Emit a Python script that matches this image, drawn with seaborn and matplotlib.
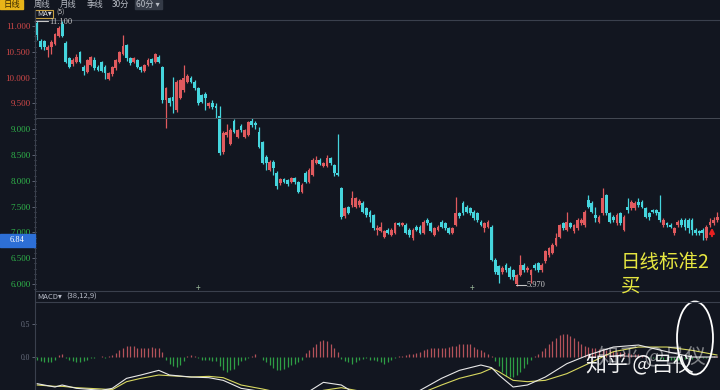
import numpy as np
import matplotlib
matplotlib.use("Agg")
import matplotlib.pyplot as plt
from matplotlib.patches import Ellipse, Rectangle
from matplotlib.lines import Line2D
from matplotlib.ticker import MultipleLocator
import seaborn as sns

# daily candles
open_px = [
    11.05, 10.70, 10.70, 10.54, 10.60, 10.66, 10.80, 11.03, 10.67, 10.37,
    10.26, 10.30, 10.50, 10.21, 10.10, 10.25, 10.34, 10.21, 10.30, 10.21,
    9.98, 10.06, 10.18, 10.30, 10.45, 10.63, 10.37, 10.30, 10.34, 10.21,
    10.12, 10.25, 10.36, 10.31, 10.40, 10.20, 9.57, 9.60, 9.62, 9.37,
    9.60, 9.75, 9.92, 10.00, 9.92, 9.79, 9.66, 9.69, 9.45, 9.51,
    9.45, 9.26, 8.55, 8.89, 8.72, 9.16, 8.85, 9.06, 8.85, 8.89,
    9.16, 9.12, 8.95, 8.76, 8.47, 8.21, 8.37, 8.16, 7.95, 8.03,
    8.02, 7.98, 8.05, 7.98, 7.79, 8.15, 7.97, 8.12, 8.34, 8.41,
    8.28, 8.28, 8.44, 8.31, 8.15, 7.86, 7.32, 7.50, 7.53, 7.50,
    7.53, 7.56, 7.47, 7.40, 7.34, 7.05, 7.02, 6.92, 7.05, 6.95,
    6.99, 7.18, 7.15, 7.15, 7.05, 6.89, 7.11, 7.11, 6.99, 7.24,
    7.18, 6.95, 7.05, 7.21, 7.18, 7.08, 6.99, 7.15, 7.37, 7.56,
    7.50, 7.47, 7.40, 7.37, 7.21, 7.08, 7.11, 7.11, 6.47, 6.34,
    6.24, 6.37, 6.31, 6.27, 5.99, 6.18, 6.37, 6.27, 6.18, 6.37,
    6.40, 6.27, 6.44, 6.56, 6.60, 6.76, 6.92, 7.18, 7.05, 7.18,
    7.02, 7.08, 7.18, 7.14, 7.63, 7.56, 7.34, 7.21, 7.37, 7.72,
    7.37, 7.30, 7.18, 7.37, 7.05, 7.50, 7.47, 7.47, 7.59, 7.59,
    7.47, 7.37, 7.43, 7.43, 7.40, 7.14, 7.18, 7.14, 6.98, 7.14,
    7.24, 7.24, 7.24, 7.24, 7.05, 7.02, 7.05, 6.89, 7.14, 7.18,
    7.24,
]
close_px = [
    10.83, 10.60, 10.60, 10.60, 10.68, 10.84, 10.97, 10.80, 10.30, 10.21,
    10.34, 10.40, 10.30, 10.13, 10.34, 10.40, 10.18, 10.15, 10.12, 10.08,
    10.08, 10.21, 10.34, 10.50, 10.62, 10.37, 10.28, 10.37, 10.21, 10.14,
    10.24, 10.34, 10.28, 10.45, 10.30, 9.57, 9.79, 9.50, 9.55, 9.92,
    9.95, 10.00, 10.04, 9.92, 9.79, 9.50, 9.53, 9.60, 9.51, 9.43,
    9.42, 8.54, 8.93, 8.95, 8.99, 8.95, 8.98, 8.98, 8.98, 9.14,
    9.08, 9.08, 8.66, 8.35, 8.34, 8.37, 8.24, 7.89, 8.03, 7.98,
    7.93, 8.05, 7.97, 7.79, 7.92, 7.97, 8.21, 8.41, 8.41, 8.33,
    8.34, 8.44, 8.34, 8.15, 8.12, 7.30, 7.47, 7.37, 7.66, 7.66,
    7.60, 7.40, 7.34, 7.30, 7.08, 7.08, 7.11, 7.02, 6.99, 7.05,
    7.18, 7.15, 7.18, 6.99, 6.95, 7.05, 7.05, 6.99, 7.21, 7.18,
    7.02, 7.08, 7.11, 7.11, 7.08, 6.99, 7.08, 7.37, 7.31, 7.37,
    7.40, 7.37, 7.27, 7.24, 7.15, 7.18, 7.21, 6.47, 6.24, 6.18,
    6.31, 6.27, 6.14, 6.14, 6.18, 6.37, 6.27, 6.31, 6.27, 6.31,
    6.27, 6.37, 6.63, 6.69, 6.76, 6.89, 7.14, 7.08, 7.21, 7.11,
    7.14, 7.24, 7.24, 7.40, 7.50, 7.40, 7.27, 7.30, 7.66, 7.37,
    7.21, 7.24, 7.34, 7.18, 7.30, 7.43, 7.59, 7.56, 7.53, 7.50,
    7.30, 7.30, 7.40, 7.37, 7.24, 7.24, 7.14, 7.11, 7.08, 7.21,
    7.14, 7.11, 7.08, 7.05, 6.98, 6.98, 6.98, 7.11, 7.21, 7.24,
    7.30,
]
high_px = [
    11.10, 10.75, 10.72, 10.63, 10.72, 10.87, 11.00, 11.10, 10.70, 10.40,
    10.37, 10.45, 10.52, 10.24, 10.36, 10.42, 10.40, 10.24, 10.32, 10.24,
    10.10, 10.23, 10.36, 10.52, 10.83, 10.66, 10.40, 10.40, 10.36, 10.23,
    10.26, 10.37, 10.38, 10.48, 10.43, 10.22, 9.82, 9.63, 10.02, 9.95,
    9.98, 10.25, 10.07, 10.03, 9.95, 9.82, 9.69, 9.72, 9.53, 9.56,
    9.50, 9.44, 8.96, 9.11, 9.02, 9.20, 9.00, 9.10, 9.00, 9.16,
    9.22, 9.15, 9.05, 8.78, 8.50, 8.40, 8.40, 8.18, 8.06, 8.06,
    8.04, 8.08, 8.08, 8.00, 7.95, 8.18, 8.24, 8.44, 8.48, 8.44,
    8.37, 8.50, 8.46, 8.33, 8.90, 7.88, 7.50, 7.52, 7.80, 7.68,
    7.65, 7.60, 7.50, 7.43, 7.36, 7.14, 7.20, 7.05, 7.08, 7.08,
    7.20, 7.20, 7.20, 7.18, 7.08, 7.08, 7.14, 7.14, 7.24, 7.27,
    7.20, 7.10, 7.14, 7.24, 7.20, 7.11, 7.11, 7.69, 7.40, 7.60,
    7.53, 7.50, 7.43, 7.40, 7.24, 7.21, 7.24, 7.14, 6.50, 6.37,
    6.34, 6.40, 6.34, 6.30, 6.20, 6.56, 6.40, 6.34, 6.30, 6.40,
    6.43, 6.40, 6.66, 6.72, 6.80, 6.98, 7.17, 7.21, 7.40, 7.21,
    7.17, 7.27, 7.27, 7.43, 7.72, 7.60, 7.50, 7.33, 7.86, 7.75,
    7.40, 7.33, 7.37, 7.40, 7.33, 7.66, 7.62, 7.60, 7.66, 7.62,
    7.50, 7.40, 7.46, 7.46, 7.72, 7.27, 7.21, 7.18, 7.11, 7.24,
    7.27, 7.27, 7.27, 7.27, 7.08, 7.05, 7.08, 7.14, 7.27, 7.30,
    7.40,
]
low_px = [
    10.73, 10.55, 10.53, 10.39, 10.45, 10.64, 10.78, 10.78, 10.28, 10.18,
    10.23, 10.28, 10.28, 10.05, 10.08, 10.22, 10.15, 10.12, 10.10, 9.97,
    9.95, 10.04, 10.15, 10.28, 10.43, 10.33, 10.25, 10.28, 10.18, 10.10,
    10.10, 10.23, 10.25, 10.29, 10.28, 9.50, 9.02, 9.45, 9.31, 9.34,
    9.58, 9.72, 9.90, 9.89, 9.76, 9.47, 9.50, 9.37, 9.42, 9.40,
    9.21, 8.50, 8.52, 8.85, 8.70, 8.92, 8.82, 8.95, 8.82, 8.87,
    9.05, 9.00, 8.63, 8.32, 8.20, 8.18, 8.11, 7.85, 7.92, 7.95,
    7.90, 7.95, 7.94, 7.76, 7.76, 7.95, 7.95, 8.10, 8.32, 8.30,
    8.26, 8.26, 8.31, 8.10, 8.10, 7.25, 7.28, 7.35, 7.50, 7.48,
    7.50, 7.38, 7.30, 7.20, 7.05, 6.95, 7.00, 6.90, 6.96, 6.93,
    6.97, 7.12, 7.13, 6.97, 6.92, 6.86, 7.02, 6.96, 6.97, 7.15,
    7.00, 6.93, 7.02, 7.08, 7.05, 6.96, 6.96, 7.12, 7.28, 7.34,
    7.37, 7.34, 7.24, 7.21, 7.12, 7.00, 7.08, 6.45, 6.20, 6.02,
    6.20, 6.24, 6.10, 6.08, 5.97, 6.15, 6.24, 6.24, 6.02, 6.28,
    6.24, 6.24, 6.40, 6.53, 6.58, 6.74, 6.90, 7.05, 7.02, 7.08,
    6.99, 7.05, 7.15, 7.11, 7.47, 7.37, 7.21, 7.18, 7.34, 7.34,
    7.18, 7.21, 7.15, 7.15, 7.02, 7.37, 7.44, 7.44, 7.50, 7.47,
    7.27, 7.24, 7.37, 7.34, 7.21, 7.11, 7.11, 7.08, 6.95, 7.11,
    7.11, 7.05, 6.98, 6.95, 6.95, 6.95, 6.85, 6.86, 7.11, 7.15,
    7.21,
]

# MACD histogram, one bar per candle
macd_hist = [
    -0.04, -0.06, -0.08, -0.08, -0.07, -0.04, 0.03, 0.04, -0.01,
    -0.04, -0.06, -0.07, -0.07, -0.06, -0.04,
    -0.01, -0.01, 0.0, 0.01, -0.01, 0.01,
    0.03, 0.06, 0.10, 0.14, 0.17, 0.17, 0.16, 0.14, 0.13, 0.13, 0.14, 0.15, 0.14, 0.13, 0.08,
    -0.05, -0.10, -0.14, -0.15, -0.12, -0.06,
    0.02, 0.03, 0.02,
    -0.02, -0.04, -0.05, -0.05, -0.06, -0.06,
    -0.14, -0.20, -0.22, -0.20, -0.18, -0.12,
    -0.06, -0.04, -0.02,
    0.02, 0.04, 0.0,
    -0.04, -0.08, -0.12, -0.16, -0.19, -0.20, -0.18, -0.15, -0.12, -0.10, -0.07, -0.04,
    0.06, 0.10, 0.15, 0.20, 0.24, 0.25, 0.24, 0.20, 0.14, 0.08,
    -0.03, -0.06, -0.08, -0.10, -0.08, -0.05, -0.03, -0.02, -0.04, -0.05, -0.06, -0.08,
    -0.10, -0.08, -0.05, -0.02,
    0.01, 0.02, 0.03, 0.04, 0.05, 0.06, 0.08, 0.10, 0.12, 0.13, 0.14, 0.14, 0.13, 0.14,
    0.15, 0.16, 0.17, 0.19, 0.20, 0.20, 0.19,
    0.15, 0.12, 0.10, 0.07, 0.04, 0.02,
    -0.06, -0.14, -0.22, -0.28, -0.30, -0.30, -0.27, -0.22, -0.16, -0.10, -0.05,
    0.02, 0.05, 0.09, 0.14, 0.19, 0.24, 0.29, 0.33, 0.35, 0.34, 0.31, 0.28, 0.24, 0.20,
    0.17, 0.15,
    0.14, 0.13, 0.12, 0.12, 0.11, 0.10, 0.09, 0.08, 0.08, 0.07, 0.06, 0.05, 0.05, 0.04,
    0.03, 0.02,
    -0.01, -0.02, -0.03, -0.03, -0.04, -0.04, -0.05, -0.05, -0.04, -0.04, -0.03, -0.03,
    -0.03, -0.02, -0.02, -0.02, -0.01, -0.01, 0.01, 0.01,
]

# DIF / DEA lines, sampled at these candle positions
line_idx = [0, 5, 7, 11, 18, 21, 25, 29, 34, 37, 43, 48, 52, 57, 63, 69, 75, 80, 85,
            89, 96, 104, 107, 113, 118, 124, 127, 129, 133, 137, 142, 148, 154, 161,
            168, 176, 183, 190]
dif_vals = [-0.40, -0.45, -0.42, -0.47, -0.50, -0.47, -0.32, -0.27, -0.20, -0.27, -0.30,
            -0.31, -0.35, -0.47, -0.52, -0.62, -0.55, -0.38, -0.42, -0.55, -0.60, -0.58,
            -0.50, -0.32, -0.20, -0.12, -0.16, -0.27, -0.45, -0.42, -0.30, -0.10, 0.03,
            0.15, 0.18, 0.08, 0.00, 0.00]
dea_vals = [-0.42, -0.44, -0.44, -0.46, -0.48, -0.49, -0.37, -0.32, -0.27, -0.28, -0.30,
            -0.29, -0.31, -0.42, -0.48, -0.55, -0.56, -0.50, -0.46, -0.50, -0.56, -0.58,
            -0.55, -0.42, -0.32, -0.24, -0.17, -0.22, -0.35, -0.37, -0.35, -0.25, -0.10,
            0.08, 0.15, 0.15, 0.10, 0.03]

price_ticks = [6.0, 6.5, 7.0, 7.5, 8.0, 8.5, 9.0, 9.5, 10.0, 10.5, 11.0]
macd_ticks = [0.0, 0.5]
base_price = 9.22
tabs = ["日线", "周线", "月线", "季线", "30分", "60分 ▾"]

BG = "#121620"
UP = "#e05a5e"
DOWN = "#45d5dd"
GRID = "#3a404d"

sns.set_theme(style="dark", rc={"axes.facecolor": BG, "figure.facecolor": BG})
plt.rcParams["font.family"] = ["Noto Sans CJK SC", "DejaVu Sans"]

fig = plt.figure(figsize=(7.2, 3.9), dpi=100)


def fx(x):
    return x / 720


def fy(y):
    return 1 - y / 390


o = np.array(open_px)
c = np.array(close_px)
h = np.array(high_px)
l = np.array(low_px)
xs = np.arange(len(c))
up = c >= o
cols = np.where(up, UP, DOWN)

# price panel
ax = fig.add_axes([fx(36), fy(291), fx(720) - fx(36), fy(20) - fy(291)])
ax.set_facecolor(BG)
ax.vlines(xs, l, h, colors=cols, lw=0.9)
body = np.maximum(np.abs(c - o), 0.015)
ax.bar(xs, body, bottom=np.minimum(o, c), width=0.78, color=cols, linewidth=0)
ax.axhline(base_price, color="#454a54", lw=0.7)
ax.set_xlim(-0.3, 190.8)
ax.set_ylim(5.864, 11.116)
ax.set_xticks([])
ax.set_yticks(price_ticks)
ax.set_yticklabels([f"{v:.3f}" for v in price_ticks])
for lbl, v in zip(ax.get_yticklabels(), price_ticks):
    lbl.set_color("#d04848" if v > base_price else "#2fb34a")
    lbl.set_family("Liberation Serif")
ax.yaxis.set_minor_locator(MultipleLocator(0.1))
ax.tick_params(axis="y", which="major", direction="out", length=3, width=0.6,
               color="#6a7080", labelsize=6.5, pad=1, left=True)
ax.tick_params(axis="y", which="minor", direction="out", length=1.5, width=0.5,
               color="#6a7080", left=True)
for s in ax.spines.values():
    s.set_visible(False)

# MACD panel
ax2 = fig.add_axes([fx(36), 0, fx(720) - fx(36), fy(302)])
ax2.set_facecolor(BG)
hist = np.array(macd_hist)
hx = np.arange(len(hist))
ax2.vlines(hx, 0, hist, colors=np.where(hist >= 0, "#b4525a", "#2e9e45"), lw=0.9)
sns.lineplot(x=line_idx, y=dea_vals, ax=ax2, color="#d8d860", lw=0.8)
sns.lineplot(x=line_idx, y=dif_vals, ax=ax2, color="#e8e8e8", lw=0.8)
ax2.set_xlim(-0.3, 190.8)
ax2.set_ylim(-0.495, 0.826)
ax2.set_xticks([])
ax2.set_yticks(macd_ticks)
ax2.set_yticklabels([f"{v:.1f}" for v in macd_ticks])
ax2.tick_params(axis="y", direction="out", length=3, width=0.6, color="#6a7080",
                labelsize=5.5, labelcolor="#6a7080", pad=1, left=True)
for lbl in ax2.get_yticklabels():
    lbl.set_family("Liberation Serif")
for s in ax2.spines.values():
    s.set_visible(False)

# frame lines
for y in (20, 291, 302):
    fig.add_artist(Line2D([fx(35), 1], [fy(y), fy(y)], color=GRID, lw=0.8))
fig.add_artist(Line2D([fx(35), fx(35)], [fy(10), 0], color=GRID, lw=0.8))

# tab bar
tab_x = [12, 42, 68, 95, 121, 148]
fig.add_artist(Rectangle((0, fy(9)), fx(23), fy(0) - fy(9), transform=fig.transFigure,
                         color="#e8b418", zorder=3))
fig.add_artist(Rectangle((fx(135), fy(9)), fx(27), fy(0) - fy(9),
                         transform=fig.transFigure, color="#343a46", zorder=3))
for i, (t, x) in enumerate(zip(tabs, tab_x)):
    fig.text(fx(x), fy(4.5), t, fontsize=6, ha="center", va="center", zorder=4,
             color="#3a2800" if i == 0 else "#b8bcc4")

# MA header
fig.add_artist(Rectangle((fx(35), fy(18)), fx(18), fy(10) - fy(18), transform=fig.transFigure,
                         fill=False, ec="#c8a040", lw=0.8))
fig.text(fx(37), fy(14), "MA▾", fontsize=5.5, color="#d8d8d8", va="center")
fig.text(fx(56), fy(13), "(5)", fontsize=5, color="#c0c0c0", va="center")
fig.add_artist(Line2D([fx(36), fx(48)], [fy(20.7), fy(20.7)], color="#c8c8c8", lw=0.8))
fig.text(fx(49), fy(22.5), "11.100", fontsize=6, color="#c8c8c8", va="center",
         family="Liberation Serif")

# low marker
fig.add_artist(Line2D([fx(516), fx(526)], [fy(285), fy(285)], color="#c8c8c8", lw=0.8))
fig.text(fx(527), fy(285), "5.970", fontsize=6, color="#c8c8c8", va="center",
         family="Liberation Serif")

# last price box
fig.add_artist(Rectangle((0, fy(247)), fx(35), fy(234) - fy(247), transform=fig.transFigure,
                         color="#2d6fd6", zorder=3))
fig.text(fx(17), fy(240.5), "6.84", fontsize=6, color="white", ha="center", va="center",
         zorder=4, family="Liberation Serif")

for x in (198, 472):
    fig.text(fx(x), fy(289), "+", fontsize=6, color="#9ab89a", ha="center", va="center")

# MACD header
fig.text(fx(37), fy(297), "MACD▾", fontsize=5.5, color="#b8bcc8", va="center")
fig.text(fx(66), fy(297), "(38,12,9)", fontsize=5.5, color="#b8bcc8", va="center")

# annotations
fig.text(fx(621), fy(262), "日线标准2", fontsize=14, color="#e6e640", va="center")
fig.text(fx(621), fy(286), "买", fontsize=14, color="#e6e640", va="center")
fig.add_artist(Ellipse((fx(695), fy(338)), fx(36), 73 / 390, transform=fig.transFigure,
                       fill=False, ec="white", lw=1.3))
ax.annotate("", xy=(fx(712), fy(225)), xytext=(fx(712), fy(239)),
            xycoords="figure fraction", textcoords="figure fraction",
            arrowprops=dict(arrowstyle="-|>", color="#e82020", lw=1.5, mutation_scale=7))

# watermark (doubled in the source image)
fig.text(fx(598), fy(356), "知乎 @吕仪", fontsize=15, color="white", alpha=0.45, va="center")
fig.text(fx(586), fy(364), "知乎 @吕仪", fontsize=15, color="white", alpha=0.95, va="center")

fig.savefig("out.png", dpi=100, facecolor=BG)
